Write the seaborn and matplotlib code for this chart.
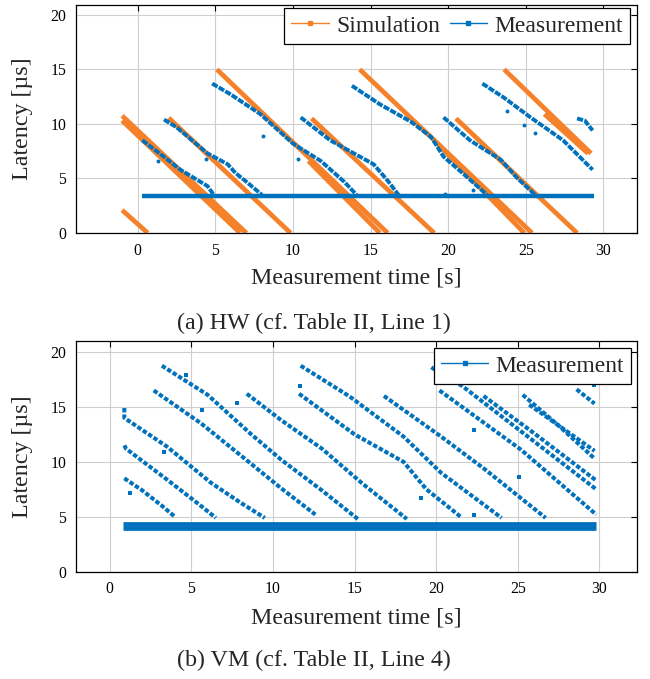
import numpy as np
import pandas as pd
import matplotlib
matplotlib.use("Agg")
import matplotlib.pyplot as plt
from matplotlib.lines import Line2D
import seaborn as sns

# ---------------- data ----------------
# (a) HW: simulation streaks (start / end points)
sim_t0 = [-1.0, -1.0, -1.0, 2.0, 5.1, 11.0, 11.2, 14.3, 19.3, 20.5, 23.6, 26.2]
sim_l0 = [2.1, 10.75, 10.3, 10.55, 15.0, 6.6, 10.5, 15.0, 8.2, 10.5, 15.0, 10.9]
sim_t1 = [0.65, 7.0, 6.6, 9.85, 16.1, 15.6, 19.1, 25.4, 24.9, 28.3, 29.2, 29.0]
sim_l1 = [0.0, 0.0, 0.0, 0.0, 0.0, 0.0, 0.0, 0.0, 0.0, 0.0, 7.3, 7.3]

# (a) HW: measurement streaks (vertices)
hw_t = [
    [0.3, 1.5, 2.75, 4.5, 4.9],
    [1.7, 2.5, 4.5, 5.8, 6.3, 7.0, 8.0],
    [4.8, 6.0, 7.9, 10.0, 11.8, 13.3, 14.1],
    [10.5, 12.4, 15.2, 16.1, 16.8],
    [13.8, 15.6, 17.6, 18.9, 19.7, 21.0, 22.5],
    [19.7, 21.4, 23.4, 24.4, 25.6],
    [22.2, 23.6, 25.3, 27.4, 29.3],
    [28.3, 28.8, 29.3],
    [0.3, 29.4],
]
hw_l = [
    [8.5, 7.2, 5.8, 4.3, 3.5],
    [10.4, 9.7, 7.3, 6.3, 5.5, 4.7, 3.5],
    [13.7, 12.7, 10.9, 8.2, 6.6, 4.7, 3.5],
    [10.6, 8.5, 6.3, 4.8, 3.5],
    [13.5, 11.8, 10.2, 8.8, 7.0, 5.4, 3.5],
    [10.6, 8.5, 6.7, 5.1, 3.5],
    [13.7, 12.4, 10.6, 8.5, 5.8],
    [10.5, 10.3, 9.4],
    [3.4, 3.4],
]
hw_out_t = [1.3, 4.4, 10.3, 8.1, 21.6, 19.8, 23.8, 24.9, 25.6]
hw_out_l = [6.6, 6.8, 6.8, 8.9, 3.9, 3.6, 11.2, 9.9, 9.2]

# (b) VM: measurement streaks (vertices)
vm_t = [
    [0.9, 2.0, 3.2, 4.0],
    [0.9, 1.0, 3.5, 5.5, 6.5],
    [0.9, 0.9, 3.5, 6.2, 8.0, 9.5],
    [2.7, 5.6, 8.6, 10.5, 12.6],
    [3.2, 6.0, 8.6, 10.5, 13.0, 15.2],
    [8.4, 10.5, 13.0, 15.5, 18.2],
    [11.7, 14.7, 18.0, 20.3, 24.0],
    [11.6, 15.0, 18.0, 19.4, 21.5],
    [16.8, 20.3, 23.0, 26.7],
    [19.7, 21.6, 25.0, 29.8],
    [20.2, 25.2, 29.8],
    [22.9, 26.0, 29.8],
    [25.3, 27.5, 29.7],
    [25.7, 29.7],
    [28.6, 29.7],
]
vm_l = [
    [8.5, 7.4, 6.0, 5.0],
    [11.5, 11.2, 8.4, 6.1, 4.9],
    [14.9, 14.0, 11.4, 8.1, 6.3, 4.9],
    [16.5, 13.5, 9.9, 7.6, 5.2],
    [18.75, 16.1, 12.6, 10.2, 7.4, 4.8],
    [16.2, 13.8, 11.2, 8.0, 4.8],
    [18.75, 15.95, 12.3, 9.0, 4.9],
    [16.2, 12.5, 10.0, 7.5, 5.0],
    [16.0, 12.3, 9.3, 4.9],
    [18.6, 16.9, 13.0, 7.5],
    [16.5, 11.1, 5.2],
    [16.0, 12.6, 8.3],
    [16.1, 13.3, 10.3],
    [15.2, 11.0],
    [16.6, 15.3],
]
vm_base_t = [0.8, 29.8]
vm_base_l = [4.15, 4.15]
vm_out_t = [4.7, 7.8, 5.66, 3.3, 1.27, 11.68, 19.1, 25.05, 22.3, 22.3, 29.64]
vm_out_l = [17.9, 15.4, 14.7, 10.9, 7.15, 16.87, 6.7, 8.66, 12.9, 5.17, 17.0]

x_ticks = [0, 5, 10, 15, 20, 25, 30]
y_ticks = [0, 5, 10, 15, 20]

# ---------------- style ----------------
BLUE = "#0072BD"
ORANGE = "#F5822A"
sns.set_style("white")
plt.rcParams["font.family"] = ["Liberation Serif", "DejaVu Serif"]


def to_long(t_lists, l_lists):
    rows = []
    for i, (ts, ls) in enumerate(zip(t_lists, l_lists)):
        for t, l in zip(ts, ls):
            rows.append({"seg": i, "t": t, "lat": l})
    return pd.DataFrame(rows)


sim_df = to_long([[a, b] for a, b in zip(sim_t0, sim_t1)],
                 [[a, b] for a, b in zip(sim_l0, sim_l1)])
hw_df = to_long(hw_t[:-1], hw_l[:-1])
hw_base = to_long([hw_t[-1]], [hw_l[-1]])
vm_df = to_long(vm_t, vm_l)
vm_base = to_long([vm_base_t], [vm_base_l])

fig = plt.figure(figsize=(6.5, 6.79), dpi=100)
W, H = 650, 679
ax1 = fig.add_axes([76 / W, 1 - 233 / H, (637 - 76) / W, (233 - 5) / H])
ax2 = fig.add_axes([76 / W, 1 - 571.7 / H, (637 - 76) / W, (571.7 - 341) / H])

# ---- (a) ----
sns.lineplot(data=sim_df, x="t", y="lat", units="seg", estimator=None, sort=False,
             color=ORANGE, lw=3.4, solid_capstyle="butt", ax=ax1, legend=False, zorder=3)
sns.lineplot(data=hw_base, x="t", y="lat", units="seg", estimator=None, sort=False,
             color=BLUE, lw=3.2, solid_capstyle="butt", ax=ax1, legend=False, zorder=4)
sns.lineplot(data=hw_df, x="t", y="lat", units="seg", estimator=None, sort=False,
             color=BLUE, lw=2.8, dashes=False, ax=ax1, legend=False, zorder=4,
             linestyle=(0, (1.6, 0.35)))
sns.scatterplot(x=hw_out_t, y=hw_out_l, color=BLUE, s=8, marker="o", linewidth=0,
                ax=ax1, legend=False, zorder=4)

# ---- (b) ----
sns.lineplot(data=vm_base, x="t", y="lat", units="seg", estimator=None, sort=False,
             color=BLUE, lw=6.3, solid_capstyle="butt", ax=ax2, legend=False, zorder=4)
sns.lineplot(data=vm_df, x="t", y="lat", units="seg", estimator=None, sort=False,
             color=BLUE, lw=2.9, dashes=False, ax=ax2, legend=False, zorder=4,
             linestyle=(0, (1.1, 0.5)))
sns.scatterplot(x=vm_out_t, y=vm_out_l, color=BLUE, s=9, marker="s", linewidth=0,
                ax=ax2, legend=False, zorder=4)

for ax, xl in ((ax1, (-3.97, 32.16)), (ax2, (-2.06, 32.3))):
    ax.set_xlim(*xl)
    ax.set_ylim(0, 20.9 if ax is ax1 else 21.0)
    ax.set_xticks(x_ticks)
    ax.set_yticks(y_ticks)
    ax.grid(True, color="#cfcfcf", lw=0.8, zorder=0)
    ax.set_axisbelow(True)
    for s in ax.spines.values():
        s.set_color("black")
        s.set_linewidth(0.9)
        s.set_zorder(6)
    ax.tick_params(direction="in", length=4, width=0.8, top=True, right=True,
                   labelsize=11.3, pad=7, colors="black")
    ax.set_xlabel("Measurement time [s]", fontsize=17.3)
    ax.set_ylabel("Latency [µs]", fontsize=17.3)
    ax.xaxis.label.set_va("center")
    ax.yaxis.label.set_va("center")

ax1.xaxis.set_label_coords(0.5, -0.196)
ax1.yaxis.set_label_coords(-0.096, 0.5)
ax2.xaxis.set_label_coords(0.5, -0.199)
ax2.yaxis.set_label_coords(-0.096, 0.5)

h_sim = Line2D([], [], color=ORANGE, lw=1.0, marker="s", markersize=3)
h_meas = Line2D([], [], color=BLUE, lw=1.0, marker="s", markersize=3)
leg_kw = dict(loc="upper right", borderaxespad=0, frameon=True, fancybox=False,
              edgecolor="black", framealpha=1, fontsize=17, handlelength=1.6,
              handletextpad=0.3, columnspacing=0.4, borderpad=0.3)
l1 = ax1.legend([h_sim, h_meas], ["Simulation", "Measurement"], ncol=2,
                bbox_to_anchor=(0.9875, 0.987), **leg_kw)
l2 = ax2.legend([h_meas], ["Measurement"], bbox_to_anchor=(0.989, 0.97),
                **dict(leg_kw, handlelength=2.0))
for lg in (l1, l2):
    lg.get_frame().set_linewidth(0.9)
    lg.set_zorder(10)

fig.text(313.5 / W, 1 - 323 / H, "(a) HW (cf. Table II, Line 1)", ha="center",
         va="center", fontsize=17.3)
fig.text(313.5 / W, 1 - 660 / H, "(b) VM (cf. Table II, Line 4)", ha="center",
         va="center", fontsize=17.3)

fig.savefig("out.png", dpi=100)
